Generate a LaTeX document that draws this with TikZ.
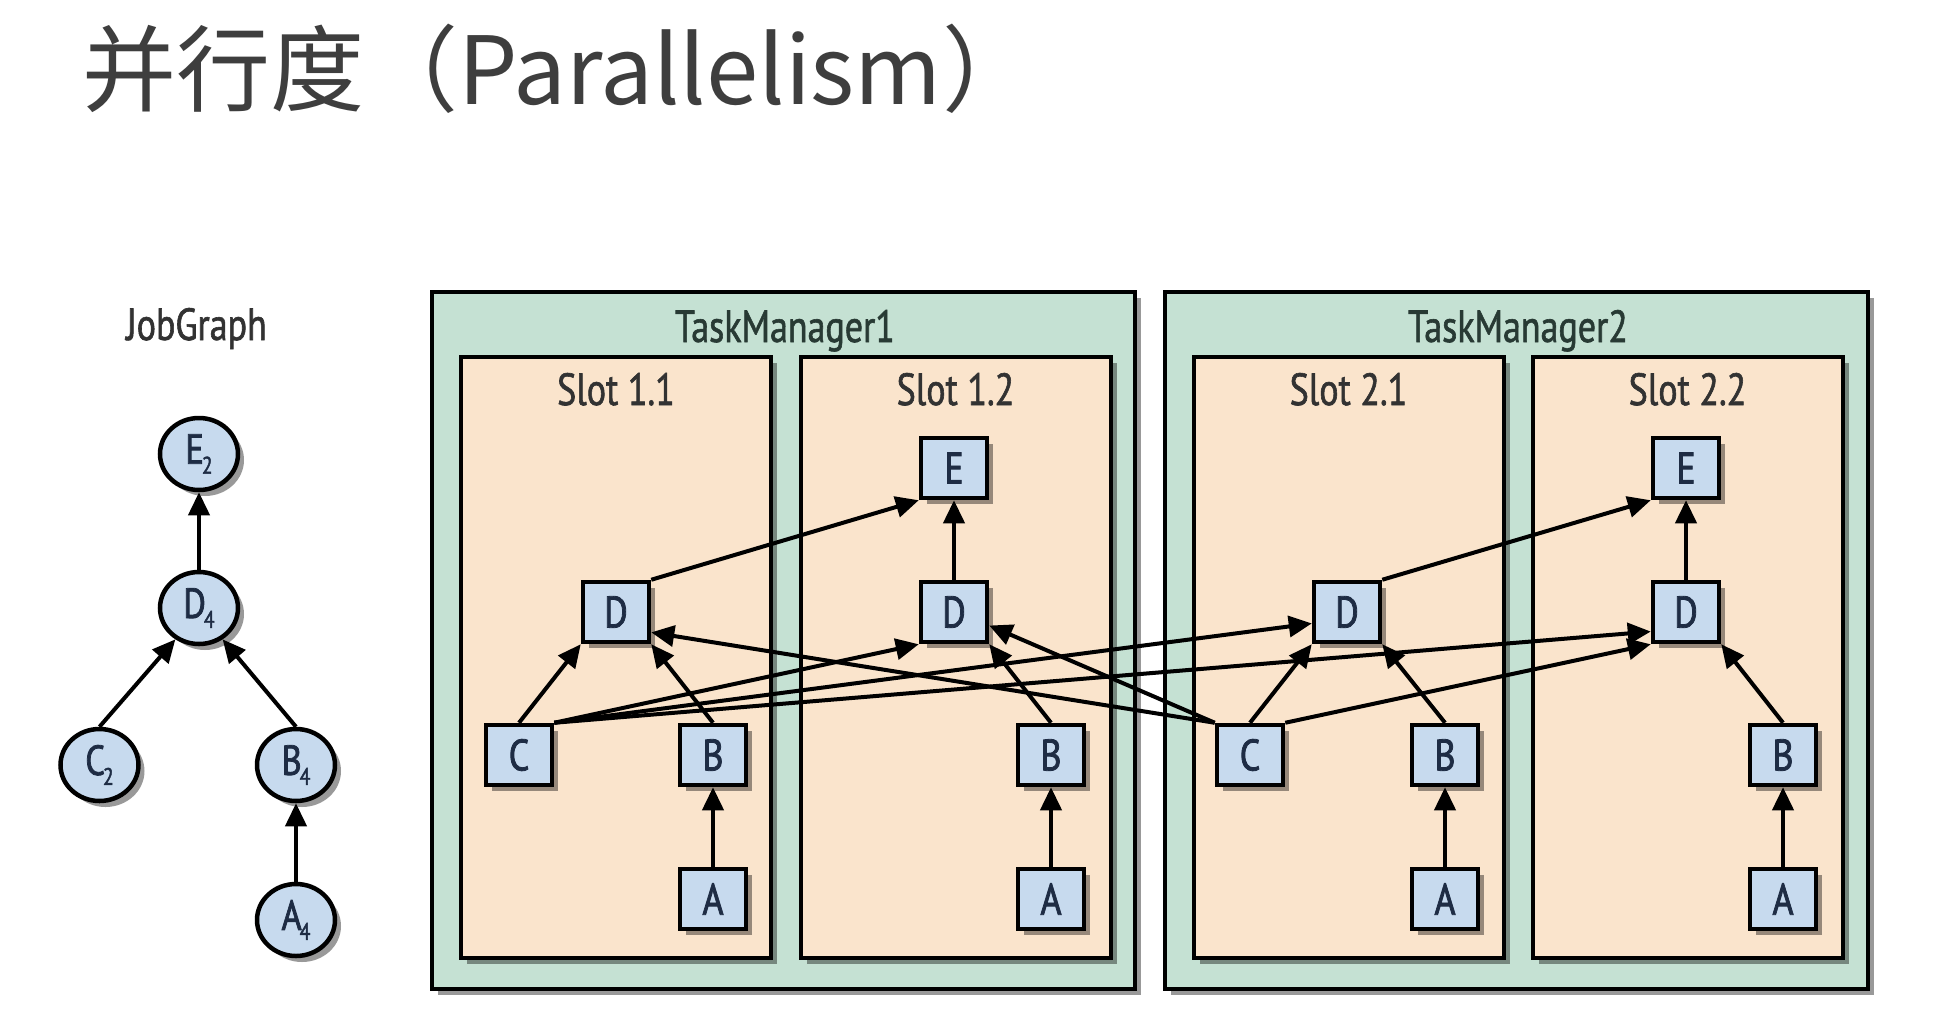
\documentclass[tikz,border=0pt]{standalone}
\usepackage{fontspec}
\setmainfont{PT Sans}
\newfontfamily\cond[FakeStretch=0.8,FakeBold=1.3]{PT Sans}
\newfontfamily\condb[FakeStretch=0.82,FakeBold=1.8]{PT Sans}
\newfontfamily\cjk{Noto Sans CJK SC}
\usetikzlibrary{arrows.meta,shadows,shapes.geometric,calc}
\definecolor{tmfill}{RGB}{197,225,211}
\definecolor{slotfill}{RGB}{250,228,204}
\definecolor{nodefill}{RGB}{199,218,238}
\definecolor{lettercol}{RGB}{30,44,68}
\definecolor{tmtext}{RGB}{40,58,52}
\definecolor{slottext}{RGB}{50,50,50}
\definecolor{titlecol}{RGB}{62,62,62}
\newcommand{\sub}[2]{#1\kern-2pt\raisebox{-10pt}{\fontsize{24}{24}\selectfont #2}}
\tikzset{
  shad/.style={drop shadow={shadow xshift=6pt,shadow yshift=-6pt,fill=black,opacity=0.4}},
  tmbox/.style={draw=black,line width=3.5pt,fill=tmfill,shad,inner sep=0},
  slotbox/.style={draw=black,line width=4pt,fill=slotfill,shad,inner sep=0,minimum width=310pt,minimum height=601pt},
  task/.style={draw=black,line width=4.5pt,fill=nodefill,shad,minimum width=66pt,minimum height=60pt,inner sep=0,
    text=lettercol,font=\condb\fontsize{44}{44}\selectfont},
  jobnode/.style={ellipse,draw=black,line width=4.5pt,fill=nodefill,shad,minimum width=78pt,minimum height=72pt,inner sep=0,
    text=lettercol,font=\condb\fontsize{42}{42}\selectfont},
  tmlabel/.style={anchor=base,inner sep=0,text=tmtext,font=\cond\fontsize{45}{45}\selectfont},
  slotlabel/.style={anchor=base,inner sep=0,text=slottext,font=\cond\fontsize{45}{45}\selectfont},
  arr/.style={line width=4pt,-{Triangle[length=23pt,width=21pt]}},
}
\begin{document}
\begin{tikzpicture}[x=1pt,y=-1pt]
\useasboundingbox[fill=white] (0,0) rectangle (1950,1028);
% title
\node[anchor=base west,inner sep=0,text=titlecol,font=\cjk\fontsize{94}{94}\selectfont] (title) at (82,104) {并行度（Parallelism）};
% JobGraph
\node[anchor=base,inner sep=0,text=slottext,font=\cond\fontsize{45}{45}\selectfont] (jglabel) at (196.5,340) {JobGraph};
\node[jobnode] (E2) at (199,454) {\sub{E}{2}};
\node[jobnode] (D4) at (199,608) {\sub{D}{4}};
\node[jobnode] (C2) at (99.5,765) {\sub{C}{2}};
\node[jobnode] (B4) at (296,765) {\sub{B}{4}};
\node[jobnode] (A4) at (296,920) {\sub{A}{4}};
\draw[arr] (D4.north) -- (E2.south);
\draw[arr] (C2.north) -- (D4.233);
\draw[arr] (B4.north) -- (D4.-53);
\draw[arr] (A4.north) -- (B4.south);
% Task managers
\node[tmbox,minimum width=703pt,minimum height=697pt] (tm1) at (783.5,640.5) {};
\node[tmbox,minimum width=703pt,minimum height=697pt] (tm2) at (1516.5,640.5) {};
\node[tmlabel] (tm1l) at (785,342) {TaskManager1};
\node[tmlabel] (tm2l) at (1518,342) {TaskManager2};
% slots
\node[slotbox] (s11) at (616,657.5) {};
\node[slotbox] (s12) at (955.5,657.5) {};
\node[slotbox] (s21) at (1348.5,657.5) {};
\node[slotbox] (s22) at (1687.5,657.5) {};
\node[slotlabel] (s11l) at (616,405) {Slot 1.1};
\node[slotlabel] (s12l) at (955.5,405) {Slot 1.2};
\node[slotlabel] (s21l) at (1348.5,405) {Slot 2.1};
\node[slotlabel] (s22l) at (1687.5,405) {Slot 2.2};
% tasks slot 1.1
\node[task] (D11) at (616,612) {D};
\node[task] (C11) at (519,755) {C};
\node[task] (B11) at (713,755) {B};
\node[task] (A11) at (713,899) {A};
% slot 1.2
\node[task] (E12) at (954,468) {E};
\node[task] (D12) at (954,612) {D};
\node[task] (B12) at (1051,755) {B};
\node[task] (A12) at (1051,899) {A};
% slot 2.1
\node[task] (D21) at (1347,612) {D};
\node[task] (C21) at (1250,755) {C};
\node[task] (B21) at (1445,755) {B};
\node[task] (A21) at (1445,899) {A};
% slot 2.2
\node[task] (E22) at (1686,468) {E};
\node[task] (D22) at (1686,612) {D};
\node[task] (B22) at (1783,755) {B};
\node[task] (A22) at (1783,899) {A};
% edges
\draw[arr] (A11.north) -- (B11.south);
\draw[arr] (A12.north) -- (B12.south);
\draw[arr] (A21.north) -- (B21.south);
\draw[arr] (A22.north) -- (B22.south);
\draw[arr] (C11.north) -- (D11.south west);
\draw[arr] (B11.north) -- (D11.south east);
\draw[arr] (B12.north) -- (D12.south east);
\draw[arr] (C21.north) -- (D21.south west);
\draw[arr] (B21.north) -- (D21.south east);
\draw[arr] (B22.north) -- (D22.south east);
\draw[arr] (D12.north) -- (E12.south);
\draw[arr] (D22.north) -- (E22.south);
\draw[arr] (D11.north east) -- (E12.south west);
\draw[arr] (D21.north east) -- (E22.south west);
\draw[arr] (C11.north east) -- (D12.south west);
\draw[arr] (C11.north east) -- (D21.198);
\draw[arr] (C11.north east) -- (D22.209);
\draw[arr] (C21.north west) -- (D11.-30);
\draw[arr] (C21.north west) -- (D12.-21);
\draw[arr] (C21.north east) -- (D22.south west);
\end{tikzpicture}
\end{document}
